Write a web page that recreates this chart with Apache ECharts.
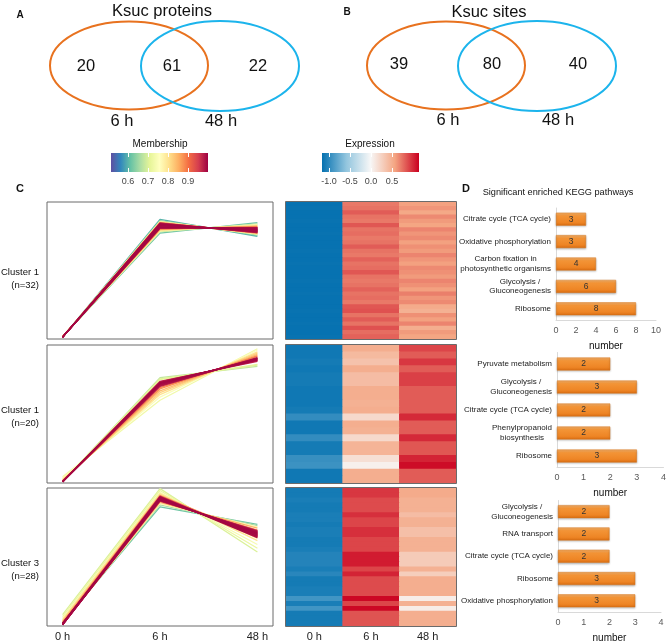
<!DOCTYPE html>
<html><head><meta charset="utf-8">
<script src="https://cdn.jsdelivr.net/npm/echarts@6/dist/echarts.min.js"></script>
<style>html,body{margin:0;padding:0;background:#fff}#c{width:669px;height:644px}</style>
</head><body><div id="c"></div>
<script>
// ---------------- DATA ----------------
const vennProteins = [20, 61, 22];
const vennSites = [39, 80, 40];
const vennSets = ['6 h', '48 h'];
const timeLabels = ['0 h', '6 h', '48 h'];
const clusterNames = ['Cluster 1\n(n=32)', 'Cluster 1\n(n=20)', 'Cluster 3\n(n=28)'];
const membershipTicks = [0.6, 0.7, 0.8, 0.9];
const expressionTicks = [-1.0, -0.5, 0.0, 0.5];

// Cluster 1 profiles (membership, standardised values at 0 h / 6 h / 48 h)
const c1Membership = [0.60,0.62,0.64,0.66,0.70,0.72,0.75,0.77,0.80,0.82,0.84,0.86,0.88,0.90,
  0.96,0.96,0.97,0.97,0.97,0.97,0.98,0.98,0.98,0.98,0.98,0.99,0.99,0.99,0.99,0.995,0.995,0.995];
const c1T0 = [-1.17,-1.16,-1.17,-1.16,-1.17,-1.16,-1.17,-1.16,-1.17,-1.16,-1.17,-1.16,-1.17,-1.16,
  -1.17,-1.17,-1.17,-1.17,-1.17,-1.17,-1.17,-1.17,-1.17,-1.17,-1.17,-1.17,-1.17,-1.17,-1.17,-1.17,-1.17,-1.17];
const c1T6 = [0.72,0.50,0.70,0.52,0.69,0.53,0.68,0.54,0.68,0.55,0.67,0.56,0.67,0.57,
  0.66,0.58,0.65,0.59,0.64,0.60,0.63,0.61,0.62,0.66,0.58,0.64,0.60,0.63,0.61,0.62,0.65,0.59];
const c1T48 = [0.45,0.67,0.47,0.65,0.48,0.64,0.49,0.63,0.49,0.62,0.50,0.61,0.50,0.60,
  0.51,0.59,0.52,0.58,0.53,0.57,0.54,0.56,0.55,0.51,0.59,0.53,0.57,0.54,0.56,0.55,0.52,0.58];

// Cluster 2 profiles
const c2Membership = [0.68,0.70,0.73,0.75,0.80,0.82,0.84,0.87,0.89,0.71,
  0.97,0.97,0.98,0.98,0.98,0.99,0.99,0.99,0.995,0.995];
const c2T0 = [-1.18,-1.17,-1.10,-1.12,-1.14,-1.15,-1.16,-1.17,-1.17,-1.17,
  -1.18,-1.18,-1.18,-1.18,-1.18,-1.18,-1.18,-1.18,-1.18,-1.18];
const c2T6 = [0.48,0.46,0.12,0.17,0.21,0.24,0.27,0.30,0.32,0.45,
  0.42,0.34,0.41,0.35,0.40,0.36,0.39,0.37,0.38,0.40];
const c2T48 = [0.66,0.68,0.94,0.92,0.89,0.87,0.85,0.83,0.82,0.69,
  0.74,0.80,0.75,0.79,0.76,0.78,0.77,0.79,0.78,0.76];

// Cluster 3 profiles
const c3Membership = [0.62,0.66,0.70,0.72,0.74,0.77,0.80,0.83,0.85,0.87,0.89,
  0.96,0.96,0.97,0.97,0.97,0.98,0.98,0.98,0.98,0.99,0.99,0.99,0.99,0.995,0.995,0.995,0.995];
const c3T0 = [-1.14,-1.15,-1.02,-1.05,-1.08,-1.16,-1.10,-1.12,-1.17,-1.14,-1.16,
  -1.16,-1.17,-1.16,-1.17,-1.18,-1.16,-1.17,-1.18,-1.16,-1.17,-1.18,-1.16,-1.17,-1.18,-1.16,-1.17,-1.18];
const c3T6 = [0.70,0.73,0.99,0.96,0.93,0.75,0.91,0.89,0.77,0.88,0.79,
  0.87,0.79,0.86,0.80,0.85,0.81,0.84,0.82,0.83,0.86,0.80,0.84,0.82,0.85,0.81,0.83,0.82];
const c3T48 = [0.42,0.40,-0.02,0.04,0.10,0.38,0.16,0.20,0.36,0.24,0.33,
  0.22,0.32,0.23,0.31,0.24,0.30,0.25,0.29,0.27,0.21,0.31,0.25,0.28,0.23,0.29,0.26,0.27];

// Heatmap rows (expression)
const hm1T0 = [-1.16,-1.15,-1.16,-1.16,-1.15,-1.16,-1.16,-1.15,-1.16,-1.16,-1.16,-1.15,-1.16,-1.16,-1.15,-1.16,
  -1.16,-1.16,-1.15,-1.16,-1.16,-1.15,-1.16,-1.16,-1.16,-1.15,-1.16,-1.16,-1.15,-1.16,-1.16,-1.15];
const hm1T6 = [0.72,0.74,0.82,0.74,0.72,0.84,0.74,0.76,0.72,0.74,0.82,0.74,0.72,0.80,0.74,0.76,
  0.84,0.74,0.72,0.74,0.80,0.74,0.76,0.72,0.84,0.86,0.74,0.82,0.74,0.86,0.76,0.80];
const hm1T48 = [0.58,0.62,0.54,0.66,0.60,0.56,0.68,0.62,0.66,0.58,0.64,0.60,0.68,0.62,0.58,0.66,
  0.64,0.60,0.68,0.64,0.58,0.70,0.62,0.66,0.52,0.48,0.64,0.58,0.68,0.50,0.60,0.56];
const hm2T0 = [-1.12,-1.12,-1.10,-1.12,-1.10,-1.10,-1.12,-1.12,-1.12,-1.10,-0.98,-1.12,-1.12,-0.98,-1.10,-1.10,-0.96,-0.94,-1.12,-1.12];
const hm2T6 = [0.50,0.42,0.36,0.50,0.40,0.40,0.50,0.50,0.48,0.50,0.20,0.50,0.48,0.20,0.46,0.46,0.16,0.04,0.50,0.50];
const hm2T48 = [0.90,0.82,0.95,0.82,0.92,0.92,0.82,0.82,0.82,0.82,1.00,0.82,0.82,1.00,0.84,0.84,1.02,1.10,0.82,0.82];
const hm3T0 = [-1.10,-1.10,-1.08,-1.10,-1.10,-1.08,-1.08,-1.10,-1.08,-1.08,-1.10,-1.10,-1.08,-1.04,
  -1.04,-1.04,-1.08,-1.02,-1.10,-1.10,-1.08,-1.08,-0.92,-1.08,-0.92,-1.10,-1.10,-1.10];
const hm3T6 = [0.95,0.95,0.88,0.88,0.88,0.98,0.90,0.90,0.98,0.98,0.90,0.90,0.90,1.05,
  1.05,1.05,0.90,1.02,0.88,0.88,0.88,0.88,1.12,0.90,1.12,0.85,0.85,0.85];
const hm3T48 = [0.52,0.52,0.48,0.48,0.48,0.40,0.48,0.48,0.38,0.38,0.48,0.48,0.48,0.30,
  0.30,0.30,0.48,0.28,0.50,0.50,0.50,0.50,0.06,0.48,0.06,0.50,0.50,0.50];

// KEGG enrichment
const keggCats1 = ['Citrate cycle (TCA cycle)','Oxidative phosphorylation','Carbon fixation in\nphotosynthetic organisms','Glycolysis /\nGluconeogenesis','Ribosome'];
const keggVals1 = [3, 3, 4, 6, 8];
const keggCats2 = ['Pyruvate metabolism','Glycolysis /\nGluconeogenesis','Citrate cycle (TCA cycle)','Phenylpropanoid\nbiosynthesis','Ribosome'];
const keggVals2 = [2, 3, 2, 2, 3];
const keggCats3 = ['Glycolysis /\nGluconeogenesis','RNA transport','Citrate cycle (TCA cycle)','Ribosome','Oxidative phosphorylation'];
const keggVals3 = [2, 2, 2, 3, 3];

// ---------------- STYLE ----------------
const FONT = 'Liberation Sans, Arial, Helvetica, sans-serif';
const spectral = ['#5e4fa2','#3288bd','#66c2a5','#abdda4','#e6f598','#ffffbf','#fee08b','#fdae61','#f46d43','#d53e4f','#9e0142'];
const rdbu = ['#0571b0','#92c5de','#f7f7f7','#f4a582','#ca0020'];
const memMin = 0.515, memMax = 1.0;
const expMin = -1.167, expMax = 1.143;

const grids = [], xAxes = [], yAxes = [], series = [], graphics = [];
function addGrid(g) { grids.push(g); return grids.length - 1; }
function grad(colors, horizontal) {
  return new echarts.graphic.LinearGradient(0, 0, horizontal ? 1 : 0, horizontal ? 0 : 1,
    colors.map((c, i) => ({ offset: i / (colors.length - 1), color: c })));
}

// ---- colour bars ----
function colorBar(left, colors, min, max, ticks) {
  const gi = addGrid({ left: left, top: 153, width: 97, height: 19, show: true, borderWidth: 0, backgroundColor: grad(colors, true) });
  xAxes.push({ gridIndex: gi, type: 'value', min: min, max: max, axisLine: { show: false }, splitLine: { show: false },
    axisTick: { show: true, inside: true, length: 4, lineStyle: { color: '#fff', width: 1 }, customValues: ticks },
    axisLabel: { customValues: ticks, formatter: v => v.toFixed(1), fontSize: 9, color: '#444', margin: 5, fontFamily: FONT } });
  xAxes.push({ gridIndex: gi, type: 'value', position: 'top', min: min, max: max, axisLine: { show: false }, splitLine: { show: false },
    axisTick: { show: true, inside: true, length: 4, lineStyle: { color: '#fff', width: 1 }, customValues: ticks },
    axisLabel: { show: false } });
  yAxes.push({ gridIndex: gi, type: 'value', show: false });
}
colorBar(111, spectral, memMin, memMax, membershipTicks);
colorBar(322, rdbu, expMin, expMax, expressionTicks);

// ---- line profiles ----
const lineSets = [
  { m: c1Membership, t0: c1T0, t6: c1T6, t48: c1T48, top: 202, h: 137, labelY: 279 },
  { m: c2Membership, t0: c2T0, t6: c2T6, t48: c2T48, top: 345, h: 138, labelY: 417 },
  { m: c3Membership, t0: c3T0, t6: c3T6, t48: c3T48, top: 488, h: 138, labelY: 570 }
];
lineSets.forEach((s, k) => {
  const gi = addGrid({ left: 47, top: s.top, width: 226, height: s.h, show: true, borderColor: '#6b6b6b', borderWidth: 1, backgroundColor: '#fff' });
  const xi = xAxes.length;
  xAxes.push({ gridIndex: gi, type: 'value', min: -0.16, max: 2.16, axisLine: { show: false }, axisTick: { show: false }, splitLine: { show: false },
    axisLabel: k === 2 ? { customValues: [0, 1, 2], formatter: v => timeLabels[Math.round(v)], fontSize: 11, color: '#222', margin: 5, fontFamily: FONT } : { show: false } });
  const yi = yAxes.length;
  yAxes.push({ gridIndex: gi, type: 'value', min: -1.2, max: 1.0, show: false });
  const order = s.m.map((v, i) => i).sort((a, b) => s.m[a] - s.m[b]);
  order.forEach(i => {
    const col = echarts.color.lerp((s.m[i] - memMin) / (memMax - memMin), spectral);
    series.push({ type: 'line', xAxisIndex: xi, yAxisIndex: yi, silent: true, symbol: 'none', showSymbol: false,
      data: [[0, s.t0[i]], [1, s.t6[i]], [2, s.t48[i]]],
      lineStyle: { width: 1.3, color: col }, itemStyle: { color: col }, z: 2 });
  });
  graphics.push({ type: 'text', x: 39, y: s.labelY, style: { text: clusterNames[k], font: '9.5px ' + FONT, fill: '#111', textAlign: 'right', textVerticalAlign: 'middle', lineHeight: 13 } });
});

// ---- heatmaps (custom rects coloured by visualMap, slightly overlapped to avoid hairline gaps) ----
const hmSets = [
  { t0: hm1T0, t6: hm1T6, t48: hm1T48, top: 202, h: 137 },
  { t0: hm2T0, t6: hm2T6, t48: hm2T48, top: 345, h: 138 },
  { t0: hm3T0, t6: hm3T6, t48: hm3T48, top: 488, h: 138 }
];
const hmSeriesIdx = [];
hmSets.forEach((s, k) => {
  const gi = addGrid({ left: 286, top: s.top, width: 170, height: s.h, show: false });
  const xi = xAxes.length;
  xAxes.push({ gridIndex: gi, type: 'category', data: timeLabels, axisLine: { show: false }, axisTick: { show: false }, splitLine: { show: false },
    axisLabel: k === 2 ? { fontSize: 11, color: '#222', margin: 5, fontFamily: FONT } : { show: false } });
  const yi = yAxes.length;
  yAxes.push({ gridIndex: gi, type: 'category', inverse: true, data: s.t0.map((_, i) => String(i + 1)), show: false });
  const data = [];
  for (let i = 0; i < s.t0.length; i++) {
    data.push([0, i, s.t0[i]], [1, i, s.t6[i]], [2, i, s.t48[i]]);
  }
  hmSeriesIdx.push(series.length);
  series.push({ type: 'custom', xAxisIndex: xi, yAxisIndex: yi, data: data, silent: true,
    encode: { x: 0, y: 1 },
    renderItem: function (params, api) {
      const p = api.coord([api.value(0), api.value(1)]);
      const sz = api.size([1, 1]);
      return { type: 'rect', shape: { x: p[0] - sz[0] / 2 - 0.3, y: p[1] - sz[1] / 2 - 0.4, width: sz[0] + 0.6, height: sz[1] + 0.8 },
        style: { fill: api.visual('color'), stroke: null } };
    } });
  graphics.push({ type: 'rect', z: 100, shape: { x: 285.5, y: s.top - 0.5, width: 171, height: s.h + 1 },
    style: { fill: 'none', stroke: '#6b6b6b', lineWidth: 1 } });
});

// ---- KEGG bars ----
const barGrad = new echarts.graphic.LinearGradient(0, 0, 0, 1, [
  { offset: 0, color: '#f9b46c' }, { offset: 0.25, color: '#f39436' }, { offset: 0.75, color: '#ee8525' }, { offset: 1, color: '#d96d12' }]);
const barSets = [
  { cats: keggCats1, vals: keggVals1, max: 10, interval: 2, left: 556, width: 100, top: 208, h: 112 },
  { cats: keggCats2, vals: keggVals2, max: 4, interval: 1, left: 557, width: 107, top: 352.5, h: 115 },
  { cats: keggCats3, vals: keggVals3, max: 4, interval: 1, left: 558, width: 103, top: 500.5, h: 113 }
];
barSets.forEach(s => {
  const gi = addGrid({ left: s.left, top: s.top, width: s.width, height: s.h });
  const xi = xAxes.length;
  xAxes.push({ gridIndex: gi, type: 'value', min: 0, max: s.max, interval: s.interval,
    axisLine: { show: true, lineStyle: { color: '#d9d9d9', width: 1 } }, axisTick: { show: false }, splitLine: { show: false },
    axisLabel: { fontSize: 9, color: '#595959', margin: 6, fontFamily: FONT },
    name: 'number', nameLocation: 'middle', nameGap: 21, nameTextStyle: { fontSize: 10, color: '#111', fontFamily: FONT } });
  const yi = yAxes.length;
  yAxes.push({ gridIndex: gi, type: 'category', inverse: true, data: s.cats,
    axisLine: { show: true, lineStyle: { color: '#d9d9d9', width: 1 } }, axisTick: { show: false },
    axisLabel: { fontSize: 8, color: '#222', margin: 5, lineHeight: 9.5, fontFamily: FONT,
      formatter: v => v.indexOf('\n') >= 0 ? v.split('\n').map(l => '{c|' + l + '}').join('\n') : v,
      rich: { c: { align: 'center', fontSize: 8, color: '#222', lineHeight: 9.5, fontFamily: FONT } } } });
  series.push({ type: 'bar', xAxisIndex: xi, yAxisIndex: yi, data: s.vals, barWidth: 13, silent: true,
    itemStyle: { color: barGrad, borderColor: '#d8761c', borderWidth: 0.5, shadowColor: 'rgba(0,0,0,0.25)', shadowBlur: 2, shadowOffsetY: 1 },
    label: { show: true, position: 'inside', fontSize: 8.5, color: '#333', fontFamily: FONT } });
});

// ---- Venn diagrams & texts ----
function txt(x, y, t, font) {
  graphics.push({ type: 'text', x: x, y: y, style: { text: t, font: font, fill: '#111', textAlign: 'center', textVerticalAlign: 'middle' } });
}
graphics.push({ type: 'ellipse', shape: { cx: 129, cy: 65.5, rx: 79, ry: 44 }, style: { fill: 'none', stroke: '#e8721f', lineWidth: 2 } });
graphics.push({ type: 'ellipse', shape: { cx: 220, cy: 66, rx: 79, ry: 45 }, style: { fill: 'none', stroke: '#1cb4ec', lineWidth: 2 } });
graphics.push({ type: 'ellipse', shape: { cx: 446, cy: 65.5, rx: 79, ry: 44 }, style: { fill: 'none', stroke: '#e8721f', lineWidth: 2 } });
graphics.push({ type: 'ellipse', shape: { cx: 537, cy: 66, rx: 79, ry: 45 }, style: { fill: 'none', stroke: '#1cb4ec', lineWidth: 2 } });
const big = '16.5px ' + FONT;
txt(162, 11, 'Ksuc proteins', big);
txt(489, 12, 'Ksuc sites', big);
txt(86, 66, String(vennProteins[0]), big); txt(172, 66, String(vennProteins[1]), big); txt(258, 66, String(vennProteins[2]), big);
txt(122, 121, vennSets[0], big); txt(221, 121, vennSets[1], big);
txt(399, 64, String(vennSites[0]), big); txt(492, 64, String(vennSites[1]), big); txt(578, 64, String(vennSites[2]), big);
txt(448, 120, vennSets[0], big); txt(558, 120, vennSets[1], big);
txt(20, 15, 'A', 'bold 10px ' + FONT);
txt(347, 12, 'B', 'bold 10px ' + FONT);
txt(20, 189, 'C', 'bold 11px ' + FONT);
txt(466, 189, 'D', 'bold 11px ' + FONT);
txt(160, 144, 'Membership', '10px ' + FONT);
txt(370, 144, 'Expression', '10px ' + FONT);
txt(558, 192, 'Significant enriched KEGG pathways', '9.2px ' + FONT);

const chart = echarts.init(document.getElementById('c'), null, { renderer: 'canvas' });
chart.setOption({
  animation: false,
  backgroundColor: '#fff',
  textStyle: { fontFamily: FONT },
  grid: grids,
  xAxis: xAxes,
  yAxis: yAxes,
  visualMap: [{ type: 'continuous', show: false, min: expMin, max: expMax, dimension: 2, seriesIndex: hmSeriesIdx, inRange: { color: rdbu } }],
  series: series,
  graphic: { elements: graphics }
});
</script></body></html>
